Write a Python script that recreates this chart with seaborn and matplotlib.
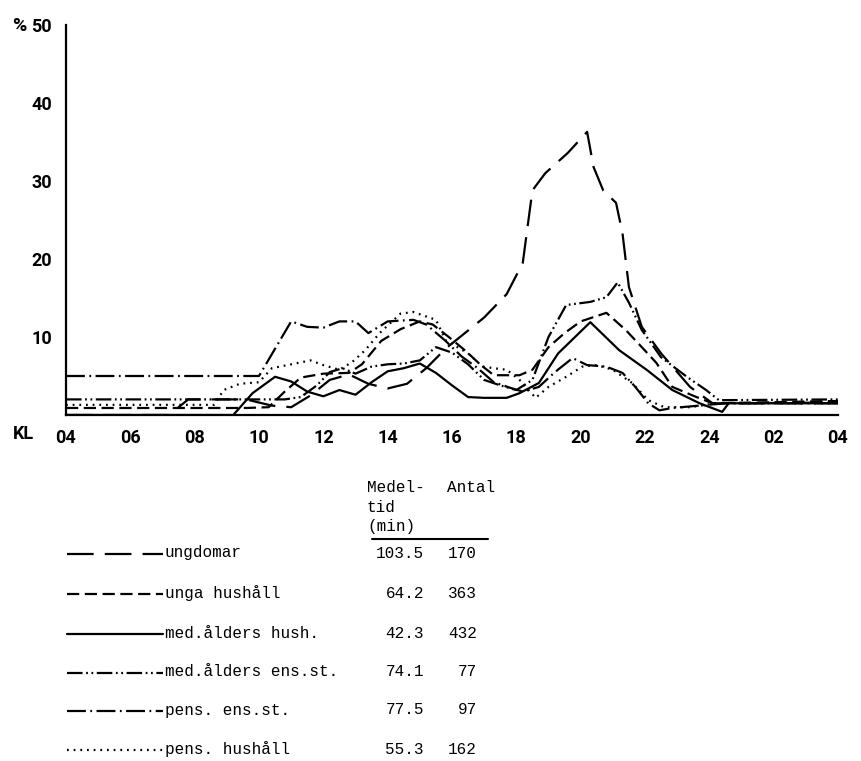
import numpy as np
import pandas as pd
import matplotlib
matplotlib.use("Agg")
import matplotlib.pyplot as plt
import seaborn as sns

# groups (legend order) and their table values
groups = ["ungdomar", "unga hushåll", "med.ålders hush.",
          "med.ålders ens.st.", "pens. ens.st.", "pens. hushåll"]
medeltid = ["103.5", "64.2", "42.3", "74.1", "77.5", "55.3"]
antal = ["170", "363", "432", "77", "97", "162"]

# share (%) per hour of day, hours 4..28 (04 -> 04 next day)
ungdomar_h = [4, 7.2, 7.8, 9.6, 10.4, 11.0, 11.6, 12.2, 12.8, 13.4, 14.0, 14.6,
              15.2, 15.8, 16.4, 17.0, 17.7, 18.2, 18.5, 18.9, 19.6, 20.2, 20.4,
              20.7, 21.1, 21.3, 21.5, 21.9, 22.5, 23.4, 24.1, 28]
ungdomar_pct = [0, 0, 2.0, 2.0, 1.2, 1.0, 2.5, 4.5, 5.2, 4.0, 3.4, 4.0,
                6.0, 8.5, 10.5, 12.5, 15.5, 19.5, 28.8, 31.0, 33.6, 36.3, 31.8,
                28.8, 27.2, 23.3, 16.4, 11.3, 7.9, 3.6, 1.5, 1.5]

unga_h = [4, 9.6, 10.3, 10.8, 11.3, 12.0, 12.8, 13.2, 13.8, 14.4, 15.0, 15.4,
          15.9, 16.4, 16.9, 17.3, 18.1, 18.5, 19.0, 19.5, 20.0, 20.8, 21.4,
          21.9, 22.35, 22.85, 23.6, 24.1, 28]
unga_pct = [0.9, 0.9, 1.0, 3.0, 4.8, 5.3, 5.4, 6.5, 9.5, 11.0, 12.0, 11.6,
            10.0, 8.3, 6.4, 5.1, 5.1, 5.8, 8.7, 10.5, 12.0, 13.1, 10.9,
            8.7, 6.7, 3.6, 2.3, 1.5, 1.8]

medhush_h = [4, 9.2, 9.8, 10.5, 11.0, 11.5, 12.0, 12.5, 13.0, 13.5, 14.0, 14.5,
             15.0, 15.5, 16.0, 16.5, 17.0, 17.7, 18.1, 18.7, 19.3, 19.95, 20.3,
             21.2, 22.05, 22.85, 23.7, 24.4, 24.6, 28]
medhush_pct = [0, 0, 2.8, 4.9, 4.3, 3.0, 2.4, 3.2, 2.6, 4.2, 5.6, 6.0,
               6.6, 5.4, 3.8, 2.3, 2.2, 2.2, 2.8, 4.1, 7.9, 10.5, 11.9,
               8.3, 5.8, 3.2, 1.5, 0.4, 1.5, 1.5]

medens_h = [4, 10.8, 11.3, 11.8, 12.2, 12.6, 13.0, 13.5, 14.0, 14.5, 15.0, 15.5,
            16.0, 16.5, 17.0, 17.5, 18.0, 18.5, 19.0, 19.55, 20.3, 20.8, 21.15,
            21.5, 21.9, 22.5, 23.3, 23.9, 24.3, 28]
medens_pct = [2.0, 2.0, 2.3, 3.8, 5.5, 6.0, 5.3, 6.2, 6.5, 6.6, 7.0, 8.7,
              8.0, 6.5, 4.5, 3.8, 3.2, 4.5, 10.0, 14.1, 14.5, 15.1, 17.0,
              14.4, 10.9, 7.4, 4.9, 3.2, 1.9, 2.0]

pensens_h = [4, 10.0, 10.5, 11.0, 11.5, 12.0, 12.5, 13.0, 13.4, 14.0, 14.8, 15.2,
             15.8, 16.3, 16.8, 17.3, 17.8, 18.2, 18.7, 19.2, 19.75, 20.2, 20.8,
             21.3, 21.7, 22.1, 22.45, 22.85, 24.5, 28]
pensens_pct = [5.0, 5.0, 8.5, 12.0, 11.3, 11.2, 12.0, 12.0, 10.5, 12.0, 12.2, 11.6,
               9.5, 7.5, 6.0, 4.2, 3.5, 3.0, 3.6, 5.5, 7.3, 6.4, 6.2,
               5.4, 3.6, 1.5, 0.6, 0.9, 1.5, 1.6]

penshush_h = [4, 8.6, 8.9, 9.4, 10.0, 10.4, 11.0, 11.6, 12.0, 12.5, 12.9, 13.3,
              13.75, 14.4, 14.8, 15.5, 15.8, 16.5, 16.95, 17.3, 17.7, 18.1, 18.6,
              19.0, 19.55, 20.05, 20.5, 21.0, 21.6, 22.1, 22.6, 23.4, 24.2, 28]
penshush_pct = [1.3, 1.3, 3.2, 4.0, 4.2, 6.0, 6.5, 7.0, 6.4, 5.8, 6.8, 8.3,
                10.5, 13.0, 13.2, 12.2, 9.6, 7.9, 6.2, 6.0, 5.8, 4.5, 2.2,
                3.6, 4.9, 6.2, 6.4, 5.8, 4.1, 1.9, 1.0, 1.0, 1.5, 1.5]

x_ticks = list(range(4, 29, 2))
x_labels = ["04", "06", "08", "10", "12", "14", "16", "18", "20", "22", "24", "02", "04"]
y_ticks = [10, 20, 30, 40, 50]

series = [(ungdomar_h, ungdomar_pct), (unga_h, unga_pct), (medhush_h, medhush_pct),
          (medens_h, medens_pct), (pensens_h, pensens_pct), (penshush_h, penshush_pct)]
frames = []
for name, (h, p) in zip(groups, series):
    frames.append(pd.DataFrame({"hour": h, "pct": p, "group": name}))
df = pd.concat(frames, ignore_index=True)

# dash patterns (in linewidth units)
dash_map = {
    "ungdomar": (12, 5),
    "unga hushåll": (5.5, 2.5),
    "med.ålders hush.": "",
    "med.ålders ens.st.": (7, 1.6, 0.8, 1.6, 0.8, 1.6),
    "pens. ens.st.": (8.5, 2, 0.8, 2),
    "pens. hushåll": (0.8, 2.2),
}

sns.set_style("white")
plt.rcParams["font.family"] = ["Roboto", "DejaVu Sans"]
plt.rcParams["text.color"] = "black"
plt.rcParams["xtick.color"] = "black"
plt.rcParams["ytick.color"] = "black"

W, H = 861, 761
fig = plt.figure(figsize=(W / 100, H / 100), dpi=100)

# overlay in pixel coordinates for the table/legend
bg = fig.add_axes([0, 0, 1, 1])
bg.set_xlim(0, W)
bg.set_ylim(H, 0)
bg.axis("off")

ax = fig.add_axes([66 / W, 1 - 415 / H, (838 - 66) / W, (415 - 25) / H])
ax.patch.set_alpha(0)

sns.lineplot(data=df, x="hour", y="pct", style="group", dashes=dash_map,
             color="black", linewidth=1.6, estimator=None, sort=False,
             legend=False, ax=ax)

ax.set_xlim(4, 28)
ax.set_ylim(0, 50)
ax.set_xticks(x_ticks)
ax.set_xticklabels(x_labels)
ax.set_xticks(range(4, 29), minor=True)
ax.set_yticks(y_ticks)
ax.set_yticklabels([str(v) for v in y_ticks])
ax.set_xlabel("")
ax.set_ylabel("")
for s in ["top", "right"]:
    ax.spines[s].set_visible(False)
for s in ["left", "bottom"]:
    ax.spines[s].set_linewidth(1.6)
    ax.spines[s].set_color("black")
ax.tick_params(axis="both", which="both", direction="out", length=7,
               width=1.4, color="black", labelcolor="black", labelsize=13, pad=3)
for lab in ax.get_xticklabels() + ax.get_yticklabels():
    lab.set_fontweight("bold")

bg.text(23, 434, "KL", fontsize=13, fontweight="bold", ha="center", va="center")
bg.text(19, 26, "%", fontsize=14, fontweight="bold", ha="center", va="center")

# table / legend
mono = ["Liberation Mono", "DejaVu Sans Mono"]
fs = 11.5
bg.text(367, 488, "Medel-", family=mono, fontsize=fs, va="center", ha="left")
bg.text(367, 507, "tid", family=mono, fontsize=fs, va="center", ha="left")
bg.text(367, 526, "(min)", family=mono, fontsize=fs, va="center", ha="left")
bg.text(447, 488, "Antal", family=mono, fontsize=fs, va="center", ha="left")
bg.plot([372, 488], [539, 539], color="black", linewidth=1.5)

row_y = [553, 593, 633, 672, 710, 749]
for name, med, n, y in zip(groups, medeltid, antal, row_y):
    d = dash_map[name]
    if d == "":
        bg.plot([67, 163], [y + 1, y + 1], color="black", linewidth=1.6)
    else:
        bg.plot([67, 163], [y + 1, y + 1], color="black", linewidth=1.6,
                dashes=d)
    bg.text(165, y, name, family=mono, fontsize=fs, va="center", ha="left")
    bg.text(424, y, med, family=mono, fontsize=fs, va="center", ha="right")
    bg.text(477, y, n, family=mono, fontsize=fs, va="center", ha="right")

fig.savefig("out.png", dpi=100, facecolor="white")
